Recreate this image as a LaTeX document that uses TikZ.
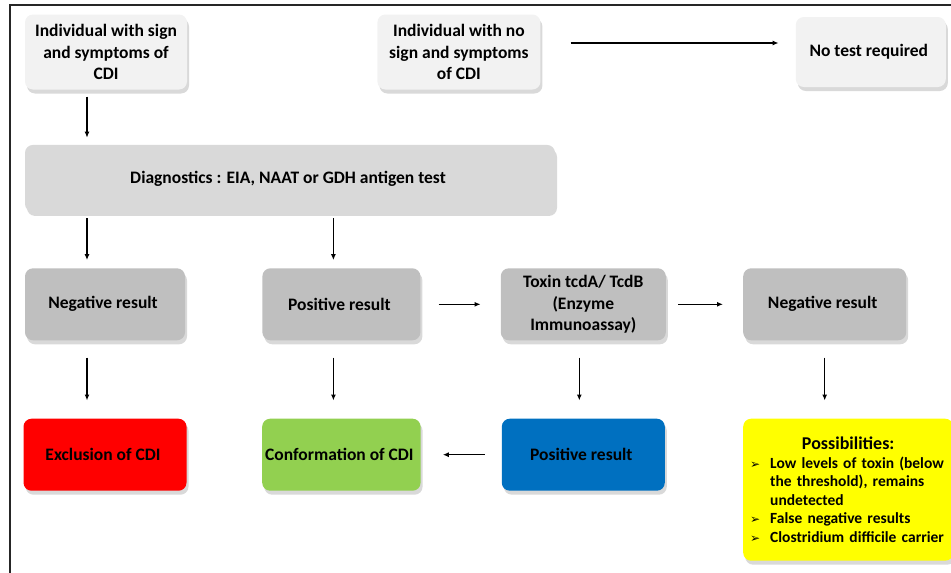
\documentclass[tikz,border=0pt]{standalone}
\usepackage{fontspec}
\setmainfont{Carlito}
\newfontfamily\arrowfont{DejaVu Sans}
\usetikzlibrary{positioning,arrows.meta,shadows}
\definecolor{CDILight}{HTML}{F2F2F2}
\definecolor{CDIMid}{HTML}{D9D9D9}
\definecolor{CDIDark}{HTML}{BFBFBF}
\definecolor{CDIRed}{HTML}{FF0000}
\definecolor{CDIGreen}{HTML}{92D050}
\definecolor{CDIBlue}{HTML}{0070C0}
\definecolor{CDIYellow}{HTML}{FFFF00}
\definecolor{CDIFrame}{HTML}{262626}
\newcommand{\possItem}[1]{\par\hangindent=20pt\hangafter=1\noindent
  \makebox[20pt][l]{\arrowfont\fontsize{12pt}{14pt}\selectfont ➢}#1}
\tikzset{
  cdiBase/.style={
    font=\fontsize{17.5pt}{21.5pt}\selectfont\bfseries,
    align=center,
    inner sep=3pt,
    draw=none,
    text=black,
    rounded corners=8pt,
    drop shadow={opacity=0.3, shadow xshift=2pt, shadow yshift=-4pt}
  },
  cdiLight/.style={
    cdiBase,
    fill=CDILight,
    minimum height=75pt
  },
  cdiMid/.style={
    cdiBase,
    fill=CDIMid,
    minimum height=67pt
  },
  cdiDark/.style={
    cdiBase,
    fill=CDIDark,
    minimum height=72pt
  },
  cdiRed/.style={
    cdiBase,
    fill=CDIRed,
    minimum height=72pt
  },
  cdiGreen/.style={
    cdiBase,
    fill=CDIGreen,
    minimum height=72pt
  },
  cdiBlue/.style={
    cdiBase,
    fill=CDIBlue,
    minimum height=72pt
  },
  cdiYellow/.style={
    cdiBase,
    fill=CDIYellow,
    font=\fontsize{15.5pt}{18.5pt}\selectfont\bfseries
  },
  cdiArrow/.style={
    line width=1.4pt,
    color=black,
    -{Latex[length=6pt,width=5pt]}
  }
}

\begin{document}
\begin{tikzpicture}[x=1pt, y=1pt]
    \useasboundingbox (0,0) rectangle (951,-573);

    % Rahmen
    \coordinate (frame_bl) at (10,-573);
    \coordinate (frame_tl) at (10,-5);
    \coordinate (frame_tr) at (951,-5);
    \draw [CDIFrame, line width=1.5pt] (frame_bl) -- (frame_tl) -- (frame_tr);

    % Obere Reihe
    \node (sign) [cdiLight, minimum width=162pt] at (106,-52) {
      Individual with sign\\
      and symptoms of\\
      CDI
    };

    \node (nosign) [cdiLight, right=190pt of sign, minimum width=163pt] {
      Individual with no\\
      sign and symptoms\\
      of CDI
    };

    \node (notest) [cdiLight, right=255pt of nosign, minimum width=150pt, minimum height=70pt] {
      No test required
    };

    % Diagnostik
    \node (diag) [cdiMid, below=55pt of sign.south west, anchor=north west, minimum width=530pt] {
      Diagnostics : EIA, NAAT or GDH antigen test
    };

    % Dritte Reihe
    \node (neg1) [cdiDark, below=56pt of diag.south west, anchor=north west, minimum width=160pt] {
      Negative result
    };

    \node (pos1) [cdiDark, right=77pt of neg1, minimum width=158pt] {
      Positive result
    };

    \node (toxin) [cdiDark, right=80pt of pos1, minimum width=165pt] {
      Toxin tcdA/ TcdB\\
      (Enzyme\\
      Immunoassay)
    };

    \node (neg2) [cdiDark, right=77pt of toxin, minimum width=163pt] {
      Negative result
    };

    % Untere Reihe
    \node (excl) [cdiRed, below=78pt of neg1, minimum width=163pt] {
      Exclusion of CDI
    };

    \node (conf) [cdiGreen, below=78pt of pos1, minimum width=158pt] {
      Conformation of CDI
    };

    \node (posb) [cdiBlue, below=78pt of toxin, minimum width=163pt] {
      Positive result
    };

    \node (poss) [cdiYellow, below=78pt of neg2.south west, anchor=north west, text width=196pt, inner sep=7pt, minimum height=142pt, align=left] {
      {\centering\fontsize{18pt}{21pt}\selectfont Possibilities:\par}
      \possItem{Low levels of toxin (below\newline the threshold), remains\newline undetected}
      \possItem{False negative results}
      \possItem{Clostridium difficile carrier}
    };

    % Pfeile
    \draw [cdiArrow, shorten <=7pt, shorten >=7pt] ([xshift=-19pt]sign.south) -- ([xshift=-19pt]sign.south |- diag.north);
    \draw [cdiArrow, shorten <=30pt, shorten >=17pt] ([yshift=9pt]nosign.east) -- ([yshift=9pt]nosign.east -| notest.west);
    \draw [cdiArrow, shorten <=6pt, shorten >=8pt] ([xshift=-18pt]neg1.north |- diag.south) -- ([xshift=-18pt]neg1.north);
    \draw [cdiArrow, shorten <=6pt, shorten >=8pt] ([xshift=-8pt]pos1.north |- diag.south) -- ([xshift=-8pt]pos1.north);
    \draw [cdiArrow, shorten <=18pt, shorten >=20pt] (pos1) -- (toxin);
    \draw [cdiArrow, shorten <=12pt, shorten >=20pt] (toxin) -- (neg2);
    \draw [cdiArrow, shorten <=17pt, shorten >=18pt] ([xshift=-18pt]neg1.south) -- ([xshift=-18pt]neg1.south |- excl.north);
    \draw [cdiArrow, shorten <=17pt, shorten >=18pt] ([xshift=-8pt]pos1.south) -- ([xshift=-8pt]pos1.south |- conf.north);
    \draw [cdiArrow, shorten <=17pt, shorten >=18pt] ([xshift=-4pt]toxin.south) -- ([xshift=-4pt]toxin.south |- posb.north);
    \draw [cdiArrow, shorten <=17pt, shorten >=18pt] (neg2.south) -- (neg2.south |- poss.north);
    \draw [cdiArrow, shorten <=17pt, shorten >=22pt] (posb) -- (conf);
  \end{tikzpicture}
\end{document}
